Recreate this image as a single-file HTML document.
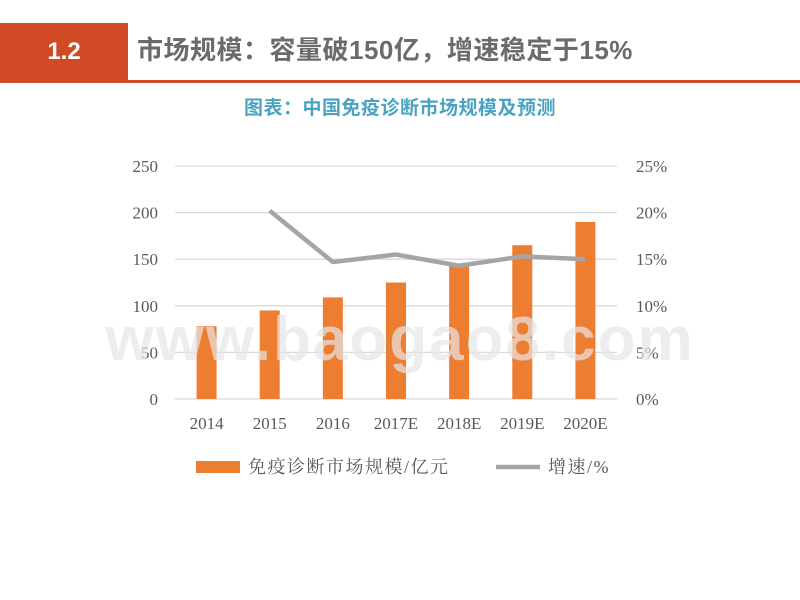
<!DOCTYPE html>
<html><head><meta charset="utf-8">
<style>
body{margin:0;width:800px;height:600px;background:#fff;overflow:hidden;position:relative;font-family:"Liberation Sans","Noto Sans CJK SC",sans-serif}
.hdr-box{position:absolute;left:0;top:23px;width:128px;height:58px;background:#d04a26;color:#fff;font-size:24px;font-weight:bold;line-height:58px;text-align:center}
.hdr-line{position:absolute;left:0;top:80px;width:800px;height:3px;background:#d04a26}
.hdr-title{position:absolute;left:137px;top:30px;font-size:26px;font-weight:bold;color:#6b6b6b;line-height:40px;letter-spacing:0.5px}
.sub{position:absolute;left:0;width:800px;top:93px;text-align:center;font-size:19px;font-weight:bold;color:#4aa3c0;letter-spacing:0.5px}
</style></head><body>
<div class="hdr-box">1.2</div>
<div class="hdr-line"></div>
<div class="hdr-title">市场规模：容量破150亿，增速稳定于15%</div>
<div class="sub">图表：中国免疫诊断市场规模及预测</div>
<svg id="chart" width="800" height="600" style="position:absolute;left:0;top:0"></svg>
<script>
const categories=["2014","2015","2016","2017E","2018E","2019E","2020E"];
const marketSize=[78,95,109,125,143,165,190];
const growth=[null,20.2,14.7,15.5,14.3,15.3,15.0];
const leftTicks=[0,50,100,150,200,250];
const rightTicks=["0%","5%","10%","15%","20%","25%"];
const svg=document.getElementById('chart');const NS='http://www.w3.org/2000/svg';
const x0=175,x1=617,yTop=166,yBot=399;
const step=(x1-x0)/categories.length;
const xc=i=>x0+step*(i+0.5);
const yL=v=>yBot-(v/250)*(yBot-yTop);
const yR=v=>yBot-(v/25)*(yBot-yTop);
function mk(t,a){const e=document.createElementNS(NS,t);for(const k in a)e.setAttribute(k,a[k]);svg.appendChild(e);return e;}
const serif='"Liberation Serif","Noto Serif CJK SC",serif';
leftTicks.forEach((v,i)=>{
 const g=mk('line',{x1:x0,x2:x1,y1:yL(v),y2:yL(v),stroke:'#d9d9d9','stroke-width':1.3});
 
 const t=mk('text',{x:158,y:yL(v)+6,'text-anchor':'end','font-size':17,fill:'#595959','font-family':serif});t.textContent=v;
 
 const r=mk('text',{x:636,y:yL(v)+6,'text-anchor':'start','font-size':17,fill:'#595959','font-family':serif});r.textContent=rightTicks[i];
 
});
marketSize.forEach((v,i)=>{
 const b=mk('rect',{x:xc(i)-10,y:yL(v),width:20,height:yBot-yL(v),fill:'#ed7d31'});
 
 const t=mk('text',{x:xc(i),y:429,'text-anchor':'middle','font-size':17,fill:'#595959','font-family':serif});t.textContent=categories[i];
 
});
let d='';growth.forEach((v,i)=>{if(v==null)return;d+=(d?'L':'M')+xc(i)+','+yR(v);});
const p=mk('path',{d:d,fill:'none',stroke:'#a5a5a5','stroke-width':4.5,'stroke-linejoin':'round'});

const wm=mk('text',{x:400,y:360,'text-anchor':'middle','font-size':62,'font-weight':'bold',fill:'rgba(230,230,230,0.7)','font-family':'"Liberation Sans",sans-serif','letter-spacing':2});wm.textContent='www.baogao8.com';

const lr=mk('rect',{x:196,y:461,width:44,height:12,fill:'#ed7d31'});
const lt=mk('text',{x:248,y:473,'font-size':18,fill:'#595959','font-family':serif,'letter-spacing':1.5});lt.textContent='免疫诊断市场规模/亿元';

const ll=mk('line',{x1:496,x2:540,y1:467,y2:467,stroke:'#a5a5a5','stroke-width':4.5});
const l2=mk('text',{x:548,y:473,'font-size':18,fill:'#595959','font-family':serif,'letter-spacing':1.5});l2.textContent='增速/%';

</script>
</body></html>
